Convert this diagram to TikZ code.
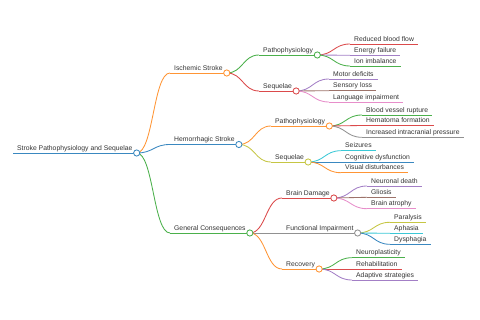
\documentclass[tikz,border=0pt]{standalone}
\usepackage{fontspec}
\setmainfont{Liberation Sans}
\usetikzlibrary{calc}
\definecolor{c0}{HTML}{3A88C0}
\definecolor{c1}{HTML}{FF9535}
\definecolor{c2}{HTML}{4BB04B}
\definecolor{c3}{HTML}{DB4A4B}
\definecolor{c4}{HTML}{A37FC6}
\definecolor{c5}{HTML}{9D736A}
\definecolor{c6}{HTML}{E78ECA}
\definecolor{c7}{HTML}{919191}
\definecolor{c8}{HTML}{C6C644}
\definecolor{c9}{HTML}{3BC8D6}
\definecolor{txt}{HTML}{333333}
\tikzset{
  lbl/.style={anchor=base west, inner xsep=4pt, inner ysep=0pt,
    font=\fontsize{6.8}{8}\selectfont, text=txt},
  uline/.style={line width=0.85pt},
  link/.style={line width=0.85pt},
  knob/.style={circle, draw, fill=white, line width=0.85pt,
    minimum size=6.2pt, inner sep=0pt},
}
\newcommand\mm[5]{%
  \coordinate (#1s) at (#2,#3);
  \node[lbl] (#1) at (#2,#3-2.8) {#5};
  \coordinate (#1e) at (#1s -| #1.east);
  \draw[uline,#4] (#1s) -- (#1e);
}
\newcommand\mmlink[3]{%
  \draw[link,#3] let \p1=(#1e), \p2=(#2s) in
    (\p1) .. controls ({0.5*\x1+0.5*\x2},\y1) and ({0.5*\x1+0.5*\x2},\y2) .. (\p2);
}
\newcommand\mmknob[2]{\node[knob,draw=#2] (#1k) at (#1e) {};}
\begin{document}
\begin{tikzpicture}[x=1pt,y=-1pt]
\useasboundingbox (0,0) rectangle (480,320);
% level 0-2
\mm{r}{13}{153}{c0}{Stroke Pathophysiology and Sequelae}
\mm{is}{170}{73}{c1}{Ischemic Stroke}
\mm{hs}{170}{144.5}{c0}{Hemorrhagic Stroke}
\mm{gc}{170}{233}{c2}{General Consequences}
\mm{ip}{259}{55}{c2}{Pathophysiology}
\mm{iq}{259}{91}{c3}{Sequelae}
\mm{hp}{271}{126}{c1}{Pathophysiology}
\mm{hq}{271}{162}{c8}{Sequelae}
\mm{bd}{282}{198}{c3}{Brain Damage}
\mm{fi}{282}{233}{c7}{Functional Impairment}
\mm{rc}{282}{269}{c1}{Recovery}
% leaves
\mm{a1}{350}{44}{c3}{Reduced blood flow}
\mm{a2}{350}{55.3}{c4}{Energy failure}
\mm{a3}{350}{66}{c2}{Ion imbalance}
\mm{b1}{329}{79}{c4}{Motor deficits}
\mm{b2}{329}{90.7}{c5}{Sensory loss}
\mm{b3}{329}{102}{c6}{Language impairment}
\mm{d1}{362}{115}{c2}{Blood vessel rupture}
\mm{d2}{362}{125.5}{c3}{Hematoma formation}
\mm{d3}{362}{137.3}{c7}{Increased intracranial pressure}
\mm{e1}{341}{150.7}{c9}{Seizures}
\mm{e2}{341}{162}{c0}{Cognitive dysfunction}
\mm{e3}{341}{172.7}{c1}{Visual disturbances}
\mm{f1}{367}{186}{c4}{Neuronal death}
\mm{f2}{367}{197.3}{c5}{Gliosis}
\mm{f3}{367}{208.7}{c6}{Brain atrophy}
\mm{g1}{390}{222.3}{c8}{Paralysis}
\mm{g2}{390}{233.3}{c9}{Aphasia}
\mm{g3}{390}{244.3}{c0}{Dysphagia}
\mm{h1}{352}{257.7}{c2}{Neuroplasticity}
\mm{h2}{352}{269}{c3}{Rehabilitation}
\mm{h3}{352}{280}{c4}{Adaptive strategies}
% links
\mmlink{r}{is}{c1}
\mmlink{r}{hs}{c0}
\mmlink{r}{gc}{c2}
\mmlink{is}{ip}{c2}
\mmlink{is}{iq}{c3}
\mmlink{hs}{hp}{c1}
\mmlink{hs}{hq}{c8}
\mmlink{gc}{bd}{c3}
\mmlink{gc}{fi}{c7}
\mmlink{gc}{rc}{c1}
\mmlink{ip}{a1}{c3}
\mmlink{ip}{a2}{c4}
\mmlink{ip}{a3}{c2}
\mmlink{iq}{b1}{c4}
\mmlink{iq}{b2}{c5}
\mmlink{iq}{b3}{c6}
\mmlink{hp}{d1}{c2}
\mmlink{hp}{d2}{c3}
\mmlink{hp}{d3}{c7}
\mmlink{hq}{e1}{c9}
\mmlink{hq}{e2}{c0}
\mmlink{hq}{e3}{c1}
\mmlink{bd}{f1}{c4}
\mmlink{bd}{f2}{c5}
\mmlink{bd}{f3}{c6}
\mmlink{fi}{g1}{c8}
\mmlink{fi}{g2}{c9}
\mmlink{fi}{g3}{c0}
\mmlink{rc}{h1}{c2}
\mmlink{rc}{h2}{c3}
\mmlink{rc}{h3}{c4}
% knobs
\mmknob{r}{c0}
\mmknob{is}{c1}
\mmknob{hs}{c0}
\mmknob{gc}{c2}
\mmknob{ip}{c2}
\mmknob{iq}{c3}
\mmknob{hp}{c1}
\mmknob{hq}{c8}
\mmknob{bd}{c3}
\mmknob{fi}{c7}
\mmknob{rc}{c1}
\end{tikzpicture}
\end{document}
